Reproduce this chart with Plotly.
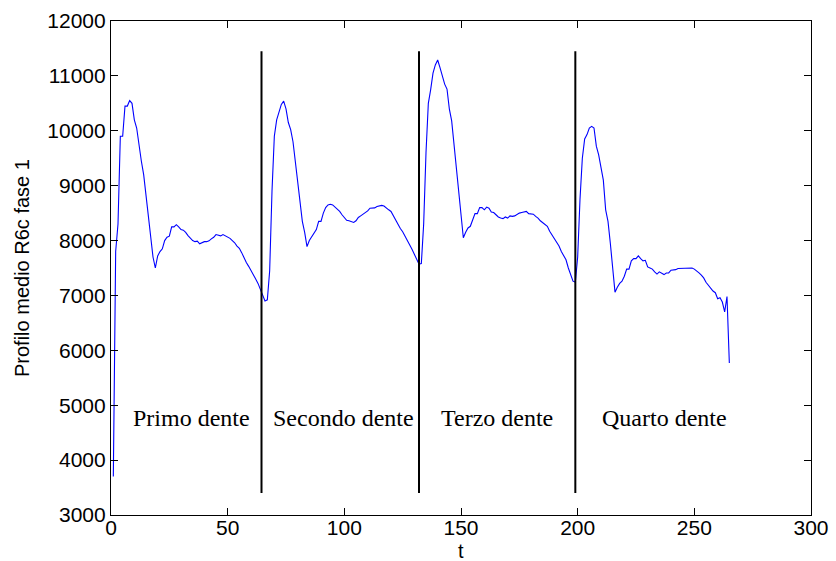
import plotly.graph_objects as go

# Mean profile R6c, phase 1, sampled at t = 1..264
profile = [
    3700, 7800, 8300, 9900, 9900, 10450, 10450, 10550, 10500, 10200,
    10050, 9700, 9450, 9200, 8850, 8450, 8050, 7700, 7500, 7720,
    7800, 7850, 8000, 8060, 8080, 8250, 8250, 8290, 8250, 8200,
    8190, 8150, 8090, 8050, 8000, 7980, 7990, 7940, 7960, 7980,
    7980, 7995, 8030, 8060, 8110, 8100, 8085, 8110, 8090, 8060,
    8040, 8000, 7960, 7900, 7860, 7780, 7680, 7600, 7530, 7460,
    7380, 7300, 7220, 7100, 6990, 6900, 6920, 7450, 8900, 9900,
    10200, 10350, 10480, 10540, 10400, 10150, 10020, 9800, 9450, 9050,
    8750, 8350, 8150, 7890, 8000, 8060, 8120, 8200, 8350, 8350,
    8500, 8600, 8650, 8660, 8650, 8610, 8570, 8530, 8470, 8420,
    8370, 8360, 8350, 8330, 8360, 8420, 8450, 8480, 8500, 8540,
    8590, 8590, 8595, 8620, 8630, 8640, 8630, 8590, 8560, 8530,
    8450, 8380, 8290, 8220, 8160, 8080, 8020, 7920, 7840, 7750,
    7650, 7570, 7580, 8300, 9600, 10500, 10750, 11050, 11200, 11290,
    11150, 10980, 10850, 10760, 10400, 10180, 9750, 9350, 8950, 8550,
    8050, 8150, 8230, 8260, 8380, 8490, 8490, 8600, 8600, 8560,
    8610, 8590, 8520, 8510, 8470, 8430, 8410, 8400, 8430, 8410,
    8450, 8440, 8450, 8480, 8500, 8510, 8520, 8530, 8490, 8490,
    8480, 8440, 8410, 8360, 8330, 8300, 8260, 8170, 8100, 8040,
    7960, 7900, 7800, 7720, 7650, 7500, 7360, 7260, 7240, 7700,
    8750, 9500, 9850, 9930, 10050, 10080, 10050, 9720, 9560, 9350,
    9100, 8560, 8350, 7950, 7550, 7060, 7150, 7220, 7260, 7350,
    7480, 7480, 7630, 7670, 7670, 7720, 7670, 7630, 7640, 7520,
    7500, 7480, 7430, 7390, 7430, 7400, 7380, 7410, 7410, 7460,
    7460, 7470, 7490, 7490, 7500, 7500, 7500, 7500, 7500, 7480,
    7450, 7410, 7370, 7320, 7240, 7180, 7140, 7080, 7050, 6940,
    6960, 6880, 6700, 6980, 5770,
]
t = list(range(1, len(profile) + 1))

# Boundaries between teeth and the extent of the separator lines
boundaries = [64.5, 132, 199]
boundary_span = [3400, 11450]

# Tooth labels
tooth_names = ["Primo dente", "Secondo dente", "Terzo dente", "Quarto dente"]
tooth_centers = [34.5, 99.5, 165.5, 237]
label_level = 4770

x_ticks = [0, 50, 100, 150, 200, 250, 300]
y_ticks = [3000, 4000, 5000, 6000, 7000, 8000, 9000, 10000, 11000, 12000]

fig = go.Figure()

fig.add_trace(go.Scatter(
    x=t, y=profile, mode="lines",
    line=dict(color="#0000ff", width=1.1),
    showlegend=False, hoverinfo="skip",
))

for b in boundaries:
    fig.add_trace(go.Scatter(
        x=[b, b], y=boundary_span, mode="lines",
        line=dict(color="black", width=2),
        showlegend=False, hoverinfo="skip",
    ))

for name, cx in zip(tooth_names, tooth_centers):
    fig.add_annotation(
        x=cx, y=label_level, xref="x", yref="y", text=name,
        showarrow=False,
        font=dict(family="Liberation Serif, Times New Roman, serif",
                  size=24, color="black"),
    )

tick_font = dict(family="Liberation Sans, Arial, sans-serif", size=21, color="black")
title_font = dict(family="Liberation Sans, Arial, sans-serif", size=20, color="black")

fig.update_xaxes(
    range=[0, 300], tickvals=x_ticks, ticktext=[str(v) for v in x_ticks],
    showline=True, linecolor="black", linewidth=1.2, mirror="ticks",
    ticks="inside", ticklen=7, tickcolor="black", tickwidth=1,
    showgrid=False, zeroline=False, tickfont=tick_font, automargin=False,
    ticklabelstandoff=-6,
)
fig.update_yaxes(
    range=[3000, 12000], tickvals=y_ticks, ticktext=[str(v) for v in y_ticks],
    showline=True, linecolor="black", linewidth=1.2, mirror="ticks",
    ticks="inside", ticklen=7, tickcolor="black", tickwidth=1,
    showgrid=False, zeroline=False, tickfont=tick_font, automargin=False,
)

# Axis titles
fig.add_annotation(
    x=0.5, y=0, xref="paper", yref="paper", yshift=-36,
    text="t", showarrow=False, font=title_font, yanchor="middle",
)
fig.add_annotation(
    x=0, y=0.5, xref="paper", yref="paper", xshift=-89,
    text="Profilo medio R6c fase 1", showarrow=False, font=title_font,
    textangle=-90, xanchor="center",
)

fig.update_layout(
    width=836, height=561,
    margin=dict(l=111, r=25, t=21, b=46),
    paper_bgcolor="white", plot_bgcolor="white",
)

fig.write_html("out.html")
